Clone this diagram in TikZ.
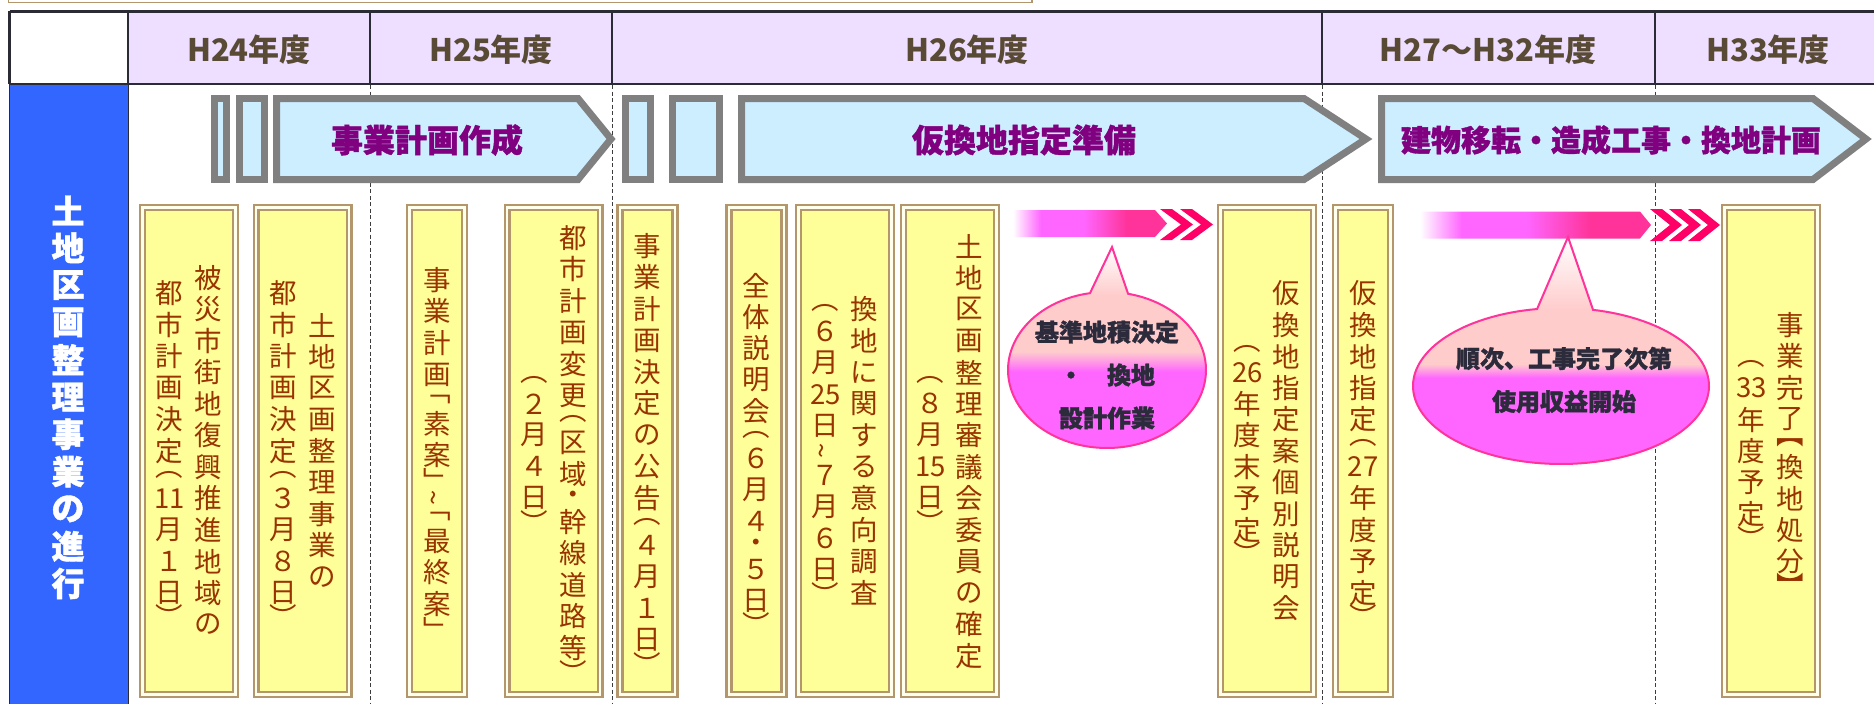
\documentclass[tikz,border=0pt]{standalone}
\usepackage{fontspec}
\usepackage{graphicx}
\newfontfamily\jp{Noto Sans CJK JP}
\newfontfamily\jph{Noto Sans CJK JP}[BoldFeatures={FakeBold=1.3}]

\definecolor{hdrfill}{RGB}{238,222,255}
\definecolor{hdrline}{RGB}{43,43,53}
\definecolor{hdrtext}{RGB}{88,74,52}
\definecolor{leftblue}{RGB}{51,102,255}
\definecolor{grayarr}{RGB}{128,128,128}
\definecolor{arrfill}{RGB}{204,238,255}
\definecolor{lblpurple}{RGB}{128,0,128}
\definecolor{boxtan}{RGB}{180,150,108}
\definecolor{boxcream}{RGB}{255,255,235}
\definecolor{boxyellow}{RGB}{255,255,153}
\definecolor{boxtext}{RGB}{153,51,0}
\definecolor{pmag}{RGB}{255,102,255}
\definecolor{phot}{RGB}{255,51,153}
\definecolor{pchev}{RGB}{255,0,102}
\definecolor{ppeach}{RGB}{255,204,204}
\definecolor{callborder}{RGB}{255,51,153}
\definecolor{calltext}{RGB}{43,43,59}
\definecolor{dashgray}{RGB}{60,60,60}

\pgfdeclarehorizontalshading{pinkbar}{100bp}{color(0bp)=(white); color(25bp)=(white); color(34bp)=(pmag); color(48bp)=(pmag); color(62bp)=(phot); color(100bp)=(phot)}
\pgfdeclareverticalshading{callA}{100bp}{color(0bp)=(pmag); color(44bp)=(pmag); color(49bp)=(ppeach); color(63bp)=(ppeach); color(75bp)=(white); color(100bp)=(white)}
\pgfdeclareverticalshading{callB}{100bp}{color(0bp)=(pmag); color(44bp)=(pmag); color(47bp)=(ppeach); color(59bp)=(ppeach); color(75bp)=(white); color(100bp)=(white)}

\ExplSyntaxOn
\dim_new:N \l_rs_cell_dim
\dim_new:N \g_rs_h_dim
\box_new:N \l_rs_item_box
\cs_new_protected:Npn \rs_item:n #1
  {
    \dim_gset_eq:NN \g_rs_h_dim \l_rs_cell_dim
    \hbox_set:Nn \l_rs_item_box {#1}
    \vbox_to_ht:nn { \g_rs_h_dim }
      {
        \vss
        \hbox_to_wd:nn { 1.3em } { \hss \box_use:N \l_rs_item_box \hss }
        \vss
      }
  }
\NewDocumentCommand \vtext { O{31.5pt} m }
  {
    \vbox:n
      {
        \dim_set:Nn \l_rs_cell_dim {#1}
        \offinterlineskip
        \tl_map_inline:nn {#2} { \rs_item:n {##1} }
      }
  }
\NewDocumentCommand \vsmall { O{16pt} m }
  {
    \dim_gset:Nn \g_rs_h_dim {#1}
    #2
  }
\ExplSyntaxOff
\newcommand\vLp{\vsmall{︵}}
\newcommand\vRp{\vsmall{︶}}
\newcommand\vLc{\vsmall[18pt]{﹁}}
\newcommand\vRc{\vsmall[18pt]{﹂}}
\newcommand\vLb{\vsmall{︻}}
\newcommand\vRb{\vsmall{︼}}
\newcommand\vmid{\vsmall{・}}
\newcommand\vwave{\vsmall[18pt]{\rotatebox[origin=c]{90}{\textasciitilde}}}

\tikzset{
  hdr/.style={text=hdrtext, font=\jp\bfseries\fontsize{31}{31}\selectfont, inner sep=0pt},
  lbl/.style={text=lblpurple, font=\jph\bfseries\fontsize{32}{32}\selectfont, inner sep=0pt},
  garrow/.style={draw=grayarr, fill=arrfill, line width=7pt, line join=miter},
  ybox/.style={draw=boxtan, double=boxcream, double distance=2.4pt, line width=2.4pt,
    fill=boxyellow, minimum height=487pt, inner sep=0pt},
  ysingle/.style={ybox, minimum width=55pt},
  ydouble/.style={ybox, minimum width=93pt},
  vt/.style={text=boxtext, font=\jp\fontsize{27.5}{27.5}\selectfont, inner sep=0pt},
  dashline/.style={draw=dashgray, line width=1pt, dash pattern=on 4pt off 2.5pt},
  callout/.style={draw=callborder, line width=2pt, shade},
  calltxt/.style={text=calltext, font=\jph\bfseries\fontsize{24}{43}\selectfont, align=center, inner sep=0pt},
  lefttxt/.style={text=white, font=\jph\bfseries\fontsize{33}{33}\selectfont, inner sep=0pt}
}

\begin{document}
\begin{tikzpicture}[x=1pt,y=-1pt]
\useasboundingbox (0,0) rectangle (1874,704);
\fill[white] (0,0) rectangle (1874,704);

% top box remnant
\draw[boxtan, line width=1.6pt] (8.3,-5) -- (8.3,2.5) -- (1032,2.5) -- (1032,-5);

% header
\fill[white] (9.7,11.3) rectangle (128,84);
\fill[hdrfill] (128,11.3) rectangle (1885,84);

% left blue column
\fill[leftblue] (9.5,84) rectangle (128,705);
\draw[hdrline, line width=1pt] (9.5,84) -- (9.5,705);
\draw[hdrline, line width=1pt] (128,84) -- (128,705);

% dashed year separators
\draw[dashline] (370,85) -- (370,704);
\draw[dashline] (612,85) -- (612,704);
\draw[dashline] (1322,85) -- (1322,704);
\draw[dashline] (1655,85) -- (1655,704);

% gray phase arrows
\draw[garrow] (214.5,98.5) rectangle (226.5,179.5);
\draw[garrow] (239.5,98.5) rectangle (264.5,179.5);
\draw[garrow] (276.5,98.5) -- (578,98.5) -- (611,139) -- (578,179.5) -- (276.5,179.5) -- cycle;
\draw[garrow] (625.5,98.5) rectangle (650.5,179.5);
\draw[garrow] (672.5,98.5) rectangle (719.5,179.5);
\draw[garrow] (741.5,98.5) -- (1304,98.5) -- (1366,139) -- (1304,179.5) -- (741.5,179.5) -- cycle;
\draw[garrow] (1381.5,98.5) -- (1813,98.5) -- (1866,139) -- (1813,179.5) -- (1381.5,179.5) -- cycle;

% header lines
\draw[hdrline, line width=2.7pt] (9.7,11.3) -- (1885,11.3);
\draw[hdrline, line width=2.7pt] (9.7,84) -- (1885,84);
\draw[hdrline, line width=2.7pt] (9.7,11.3) -- (9.7,84);
\foreach \hx in {128,370,612,1322,1655} {
  \draw[hdrline, line width=2.7pt] (\hx,11.3) -- (\hx,84);
}

% header texts
\node[hdr] (h24) at (249,50) {H24年度};
\node[hdr] (h25) at (491,50) {H25年度};
\node[hdr] (h26) at (967,50) {H26年度};
\node[hdr] (h27) at (1488,50) {H27～H32年度};
\node[hdr] (h33) at (1768,50) {H33年度};

% phase labels
\node[lbl] (l1) at (427,140) {事業計画作成};
\node[lbl] (l2) at (1024,140) {仮換地指定準備};
\node[lbl, font=\jph\bfseries\fontsize{30}{30}\selectfont] (l3) at (1611,140) {建物移転・造成工事・換地計画};

% left column text
\node[lefttxt] (lt) at (68,397) {\vtext[37.3pt]{土地区画整理事業の進行}};

% yellow boxes
\node[ydouble] (b1) at (188.8,451) {};
\node[ydouble] (b2) at (302.7,451) {};
\node[ysingle] (b3) at (437,451) {};
\node[ydouble] (b4) at (553.6,451) {};
\node[ysingle] (b5) at (647.5,451) {};
\node[ysingle] (b6) at (756.5,451) {};
\node[ydouble] (b7) at (845,451) {};
\node[ydouble] (b8) at (950,451) {};
\node[ydouble] (b9) at (1267,451) {};
\node[ysingle] (b10) at (1363,451) {};
\node[ydouble] (b11) at (1771,451) {};

% box texts
\node[vt, xshift=19.5pt] (t1r) at (b1.center) {\vtext{被災市街地復興推進地域の}};
\node[vt, xshift=-19.5pt] (t1l) at (b1.center) {\vtext{都市計画決定\vLp {11}月１日\vRp }};
\node[vt, xshift=19.5pt] (t2r) at (b2.center) {\vtext{土地区画整理事業の}};
\node[vt, xshift=-19.5pt] (t2l) at (b2.center) {\vtext{都市計画決定\vLp ３月８日\vRp }};
\node[vt] (t3) at (b3.center) {\vtext{事業計画\vLc 素案\vRc \vwave \vLc 最終案\vRc }};
\node[vt, xshift=19.5pt] (t4r) at (b4.center) {\vtext{都市計画変更\vLp 区域\vmid 幹線道路等\vRp }};
\node[vt, xshift=-19.5pt] (t4l) at (b4.center) {\vtext{\vLp ２月４日\vRp }};
\node[vt] (t5) at (b5.center) {\vtext{事業計画決定の公告\vLp ４月１日\vRp }};
\node[vt] (t6) at (b6.center) {\vtext{全体説明会\vLp ６月４\vmid ５日\vRp }};
\node[vt, xshift=19.5pt] (t7r) at (b7.center) {\vtext{換地に関する意向調査}};
\node[vt, xshift=-19.5pt] (t7l) at (b7.center) {\vtext{\vLp ６月{25}日\vwave ７月６日\vRp }};
\node[vt, xshift=19.5pt] (t8r) at (b8.center) {\vtext{土地区画整理審議会委員の確定}};
\node[vt, xshift=-19.5pt] (t8l) at (b8.center) {\vtext{\vLp ８月{15}日\vRp }};
\node[vt, xshift=19.5pt] (t9r) at (b9.center) {\vtext{仮換地指定案個別説明会}};
\node[vt, xshift=-19.5pt] (t9l) at (b9.center) {\vtext{\vLp {26}年度末予定\vRp }};
\node[vt] (t10) at (b10.center) {\vtext{仮換地指定\vLp {27}年度予定\vRp }};
\node[vt, xshift=19.5pt] (t11r) at (b11.center) {\vtext{事業完了\vLb 換地処分\vRb }};
\node[vt, xshift=-19.5pt] (t11l) at (b11.center) {\vtext{\vLp {33}年度予定\vRp }};

% pink progress arrows
\path[shade, shading=pinkbar] (1013,210) -- (1155,210) -- (1167,223.5) -- (1155,237) -- (1013,237) -- cycle;
\foreach \cx in {1160,1180} {
  \fill[pchev] (\cx,209) -- ++(12,0) -- ++(21,15.5) -- ++(-21,15.5) -- ++(-12,0) -- ++(21,-15.5) -- cycle;
}
\path[shade, shading=pinkbar] (1420,211.5) -- (1640,211.5) -- (1651,225) -- (1640,238.5) -- (1420,238.5) -- cycle;
\foreach \cx in {1650,1669,1688} {
  \fill[pchev] (\cx,209) -- ++(12,0) -- ++(20,16) -- ++(-20,16) -- ++(-12,0) -- ++(20,-16) -- cycle;
}

% callouts
\path[callout, shading=callA] (1112,247) -- plot[domain=-77.7:260.1, samples=120] ({1107+99*cos(\x)},{370+78*sin(\x)}) -- cycle;
\path[callout, shading=callB] (1568,237) -- plot[domain=-77.5:260.7, samples=140] ({1561+148*cos(\x)},{386+78*sin(\x)}) -- cycle;

\node[calltxt] (ct1) at (1107,375) {基準地積決定\\・　換地\\設計作業};
\node[calltxt] (ct2) at (1564,380) {順次、工事完了次第\\使用収益開始};

\end{tikzpicture}
\end{document}
